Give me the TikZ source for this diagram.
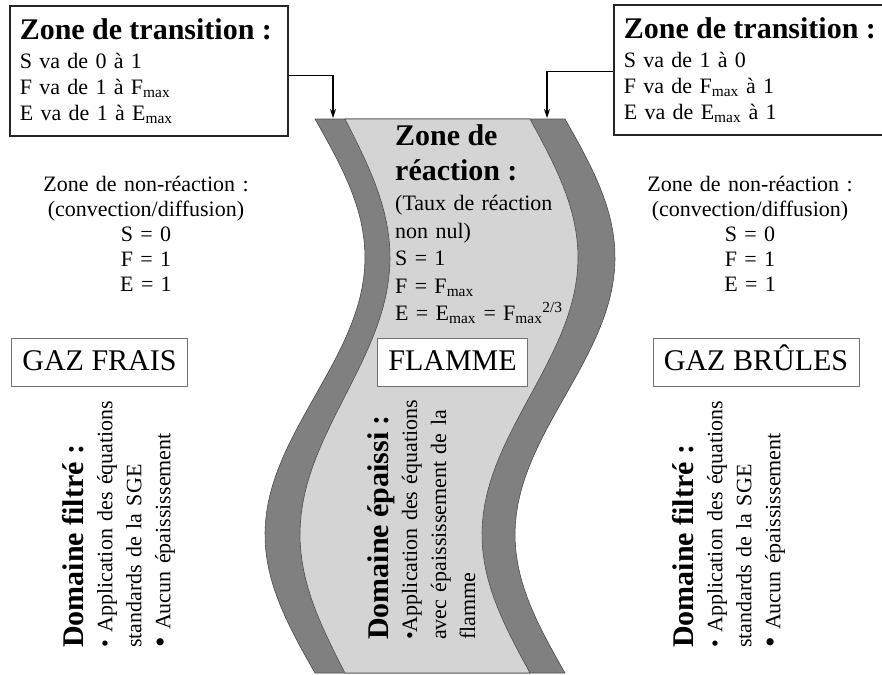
\documentclass[tikz,border=0pt]{standalone}
\usepackage{fontspec}
\setmainfont{Liberation Serif}
\usetikzlibrary{arrows.meta}

\definecolor{bandout}{gray}{0.5}
\definecolor{bandin}{gray}{0.83}
\newcommand{\titlefont}{\fontsize{30}{35}\selectfont\bfseries}
\newcommand{\bodyfont}{\fontsize{22}{26}\selectfont}
\newcommand{\bigbullet}{{\fontsize{30}{29}\selectfont\textbullet}}

\begin{document}
\begin{tikzpicture}[x=1pt,y=-1pt,
		transbox/.style={draw=black!85,line width=1.6pt,anchor=north west,text width=#1,
			inner xsep=10pt,minimum height=130pt,align=left,font=\bodyfont},
		gazbox/.style={draw=black!55,line width=0.8pt,fill=white,text height=22pt,text depth=6pt,
			font=\fontsize{30}{30}\selectfont,inner xsep=11pt,minimum height=48pt},
		zonetext/.style={anchor=north,text width=250pt,align=center,inner sep=0pt,
			font=\fontsize{22}{25}\selectfont},
		domtext/.style={rotate=90,anchor=north west,text width=300pt,align=left,
			inner sep=0pt,font=\fontsize{22}{29}\selectfont},
		pointer/.style={-{Stealth[length=9pt,width=6pt]},line width=1.1pt}]
		\useasboundingbox (0,0) rectangle (882,674);

		% flamme epaissie
		\filldraw[fill=bandout,draw=black!70,line width=0.6pt]
			plot[domain=119:673,samples=60,variable=\t] ({315+50*sin(0.6498*(\t-119))},\t)
			-- plot[domain=673:119,samples=60,variable=\t] ({565+50*sin(0.6498*(\t-119))},\t) -- cycle;
		\filldraw[fill=bandin,draw=black!70,line width=0.6pt]
			plot[domain=119:673,samples=60,variable=\t] ({345+45*sin(0.6498*(\t-119))},\t)
			-- plot[domain=673:119,samples=60,variable=\t] ({530+48*sin(0.6498*(\t-119))},\t) -- cycle;
		\coordinate (tipL) at (333,118);
		\coordinate (tipR) at (547,118);

		% zones de transition
		\node[transbox=258pt] (transL) at (9,5) {{\titlefont Zone de transition :\par}\vspace{3pt}
			S va de 0 à 1\\ F va de 1 à F\textsubscript{max}\\ E va de 1 à E\textsubscript{max}};
		\node[transbox=270pt] (transR) at (613,4) {{\titlefont Zone de transition :\par}\vspace{3pt}
			S va de 1 à 0\\ F va de F\textsubscript{max} à 1\\ E va de E\textsubscript{max} à 1};
		\draw[pointer] ([yshift=-5pt]transL.east) -| (tipL);
		\draw[pointer] ([yshift=-2pt]transR.west) -| (tipR);

		% zone de reaction
		\node[anchor=north west,text width=180pt,align=left,inner sep=0pt,
			font=\fontsize{22}{27.5}\selectfont] (reaction) at (395,124)
			{{\titlefont Zone de\\ réaction :\par}\vspace{3pt}
			(Taux de réaction\\ non nul)\\ S = 1\\ F = F\textsubscript{max}\\
			E = E\textsubscript{max} = F\textsubscript{max}\textsuperscript{2/3}};

		% zones de non-reaction
		\node[zonetext] (nonreacL) at (146,176) {Zone de non-réaction :\\ (convection/diffusion)\\ S = 0\\ F = 1\\ E = 1};
		\node[zonetext] (nonreacR) at (750,176) {Zone de non-réaction :\\ (convection/diffusion)\\ S = 0\\ F = 1\\ E = 1};

		\node[gazbox] (frais) at (99.5,362) {GAZ FRAIS};
		\node[gazbox] (flamme) at (452.5,362.5) {FLAMME};
		\node[gazbox] (brules) at (756,362) {GAZ BRÛLES};

		% domaines
		\node[domtext] (domL) at (62,648) {{\titlefont Domaine filtré :\par}
			• Application des équations\\ standards de la SGE\\ \bigbullet\ Aucun épaississement};
		\node[domtext] (domC) at (367,640) {{\titlefont Domaine épaissi :\par}
			•Application des équations\\ avec épaississement de la\\ flamme};
		\node[domtext] (domR) at (672,648) {{\titlefont Domaine filtré :\par}
			• Application des équations\\ standards de la SGE\\ \bigbullet\ Aucun épaississement};
	\end{tikzpicture}
\end{document}
